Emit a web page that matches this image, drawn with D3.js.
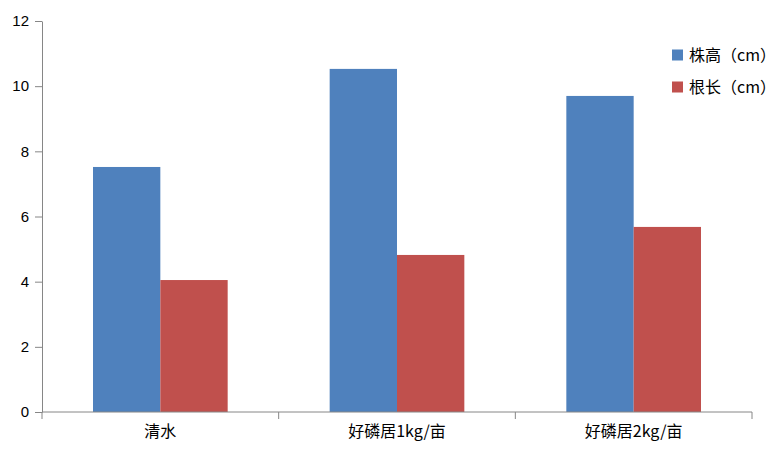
<!DOCTYPE html>
<html><head><meta charset="utf-8">
<script src="https://cdn.jsdelivr.net/npm/d3@7"></script>
<style>body{margin:0;background:#fff}</style>
</head><body>
<svg id="c" width="783" height="464"></svg>
<script>
const categories = ["清水", "好磷居1kg/亩", "好磷居2kg/亩"];
const seriesNames = ["株高（cm）", "根长（cm）"];
const heightValues = [7.52, 10.53, 9.70];
const rootValues = [4.05, 4.82, 5.68];
const yTicks = [0, 2, 4, 6, 8, 10, 12];
const colors = ["#4F81BD", "#C0504D"];

(function () {
const svg = d3.select("#c");
const mLeft = 42, mRight = 752, mTop = 21, mBottom = 412;
const x0 = d3.scaleBand().domain(categories).range([mLeft, mRight]).padding(0);
const gap = 51;
const x1 = d3.scaleBand().domain([0, 1]).range([gap, x0.bandwidth() - gap]).padding(0);
const y = d3.scaleLinear().domain([0, 12]).range([mBottom, mTop]);
const axisColor = "#868686";
const cjk = "'Noto Sans CJK SC', sans-serif";

const series = [heightValues, rootValues];
series.forEach((vals, si) => {
  svg.append("g").selectAll("rect").data(vals).join("rect")
    .attr("x", (d, i) => x0(categories[i]) + x1(si))
    .attr("width", x1.bandwidth())
    .attr("y", d => y(d))
    .attr("height", d => y(0) - y(d))
    .attr("fill", colors[si]);
});

const ya = svg.append("g").attr("transform", `translate(${mLeft},0)`)
  .call(d3.axisLeft(y).tickValues(yTicks).tickSize(7).tickPadding(6).tickSizeOuter(0));
ya.select(".domain").attr("stroke", axisColor);
ya.selectAll(".tick line").attr("stroke", axisColor);
ya.selectAll("text").attr("fill", "#000").style("font-family", "'Liberation Sans', sans-serif").style("font-size", "15px");

const xa = svg.append("g").attr("transform", `translate(0,${mBottom})`)
  .call(d3.axisBottom(x0).tickSize(0).tickPadding(14));
xa.select(".domain").attr("stroke", axisColor).attr("d", `M${mLeft},0H${mRight}`);
xa.selectAll("text").attr("fill", "#000").style("font-family", cjk).style("font-size", "16px");
const bounds = [mLeft].concat(categories.map(c => x0(c) + x0.bandwidth()));
xa.selectAll("line.sep").data(bounds).join("line").attr("class", "sep")
  .attr("x1", d => d).attr("x2", d => d).attr("y1", 0).attr("y2", 7)
  .attr("stroke", axisColor);

const lg = svg.append("g");
seriesNames.forEach((n, i) => {
  const yy = 55 + i * 32;
  lg.append("rect").attr("x", 672).attr("y", yy - 5.5).attr("width", 11).attr("height", 11).attr("fill", colors[i]);
  lg.append("text").attr("x", 689).attr("y", yy).attr("dy", "0.35em")
    .style("font-family", cjk).style("font-size", "16px").text(n);
});
})();
</script>
</body></html>
